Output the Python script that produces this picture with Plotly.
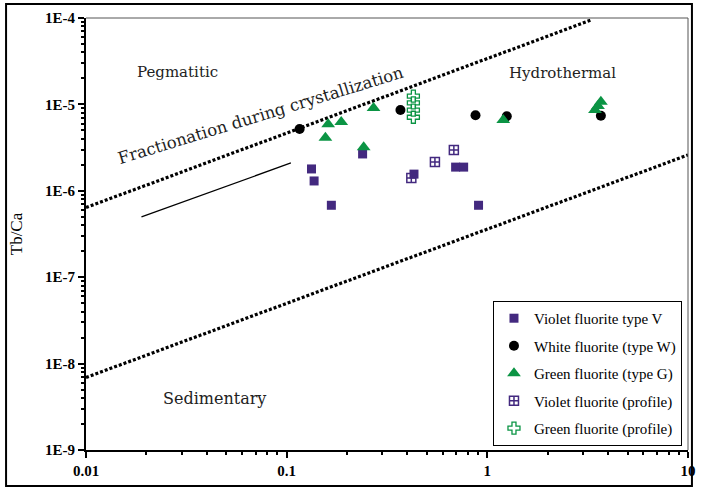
import plotly.graph_objects as go

# ---- data ----
violet_V_x = [0.133, 0.137, 0.167, 0.239, 0.431, 0.695, 0.762, 0.904]
violet_V_y = [1.79e-6, 1.30e-6, 6.8e-7, 2.67e-6, 1.56e-6, 1.88e-6, 1.88e-6, 6.8e-7]

white_W_x = [0.116, 0.369, 0.873, 1.25, 3.68]
white_W_y = [5.2e-6, 8.6e-6, 7.5e-6, 7.3e-6, 7.4e-6]

green_G_x = [0.156, 0.161, 0.187, 0.271, 0.242, 1.20, 3.44, 3.56, 3.68]
green_G_y = [4.1e-6, 5.9e-6, 6.25e-6, 9.1e-6, 3.2e-6, 6.6e-6, 8.6e-6, 9.6e-6, 1.07e-5]

violet_P_x = [0.418, 0.548, 0.681]
violet_P_y = [1.41e-6, 2.16e-6, 2.96e-6]

green_P_x = [0.428, 0.428, 0.428, 0.428]
green_P_y = [1.25e-5, 1.04e-5, 8.6e-6, 7.1e-6]

upper_line_x = [0.01, 3.3]
upper_line_y = [6.4e-7, 9.5e-5]
lower_line_x = [0.01, 10]
lower_line_y = [6.9e-9, 2.6e-6]
trend_line_x = [0.0189, 0.105]
trend_line_y = [4.98e-7, 2.1e-6]

y_tickvals = [1e-9, 1e-8, 1e-7, 1e-6, 1e-5, 1e-4]
y_ticktext = ["1E-9", "1E-8", "1E-7", "1E-6", "1E-5", "1E-4"]
x_tickvals = [0.01, 0.1, 1, 10]
x_ticktext = ["0.01", "0.1", "1", "10"]

VIOLET = "#43297f"
GREEN = "#0b9444"
SERIF = "Liberation Serif, Times New Roman, serif"
WIDE_SERIF = "DejaVu Serif, serif"

fig = go.Figure()

# boundary lines (no legend)
fig.add_trace(go.Scatter(x=upper_line_x, y=upper_line_y, mode="lines",
                         line=dict(color="black", width=3.2, dash="3px,2px"),
                         showlegend=False, hoverinfo="skip"))
fig.add_trace(go.Scatter(x=lower_line_x, y=lower_line_y, mode="lines",
                         line=dict(color="black", width=3.2, dash="3px,2px"),
                         showlegend=False, hoverinfo="skip"))
fig.add_trace(go.Scatter(x=trend_line_x, y=trend_line_y, mode="lines",
                         line=dict(color="black", width=1.3),
                         showlegend=False, hoverinfo="skip"))

fig.add_trace(go.Scatter(x=violet_V_x, y=violet_V_y, mode="markers",
                         name="Violet fluorite type V", legendgroup="a",
                         marker=dict(symbol="square", size=9, color=VIOLET)))
fig.add_trace(go.Scatter(x=white_W_x, y=white_W_y, mode="markers",
                         name="White fluorite (type W)", legendgroup="b",
                         marker=dict(symbol="circle", size=10, color="black")))
fig.add_trace(go.Scatter(x=green_G_x, y=green_G_y, mode="markers",
                         name="Green fluorite (type G)", legendgroup="c",
                         marker=dict(symbol="triangle-up", size=12, color=GREEN)))
fig.add_trace(go.Scatter(x=violet_P_x, y=violet_P_y, mode="markers",
                         name="Violet fluorite (profile)", legendgroup="d",
                         marker=dict(symbol="square-cross-open", size=9, color=VIOLET,
                                     line=dict(width=1.5, color=VIOLET))))
fig.add_trace(go.Scatter(x=green_P_x, y=green_P_y, mode="markers",
                         name="Green fluorite (profile)", legendgroup="e",
                         marker=dict(symbol="cross-open", size=10, color=GREEN,
                                     line=dict(width=1.3, color=GREEN))))

axis_common = dict(
    type="log", showgrid=False, zeroline=False,
    showline=True, linecolor="black", linewidth=2, mirror=False,
    ticks="outside", ticklen=6, tickwidth=2, tickcolor="black",
    tickfont=dict(family=SERIF, size=15, color="black", weight="bold"),
    minor=dict(ticks="outside", ticklen=3, tickwidth=1.5, tickcolor="black",
               dtick="D1", showgrid=False),
)

fig.update_xaxes(range=[-2, 1], tickvals=x_tickvals, ticktext=x_ticktext, **axis_common)
fig.update_yaxes(range=[-9, -4], tickvals=y_tickvals, ticktext=y_ticktext,
                 title=dict(text="Tb/Ca", font=dict(family=SERIF, size=17, color="black"),
                            standoff=18),
                 **axis_common)

# thin top and right frame lines + outer border
fig.add_shape(type="line", xref="paper", yref="paper", x0=0, x1=1, y0=1, y1=1,
              line=dict(color="#555555", width=1))
fig.add_shape(type="line", xref="paper", yref="paper", x0=1, x1=1, y0=0, y1=1,
              line=dict(color="#555555", width=1))
fig.add_shape(type="rect", xref="paper", yref="paper",
              x0=(5 - 86) / 610, x1=(700 - 86) / 610,
              y0=(450 - 486) / 432, y1=(450 - 4) / 432,
              line=dict(color="black", width=2))

ann_font = dict(family=WIDE_SERIF, size=15, color="#222222")
fig.add_annotation(x=-1.545, y=-4.62, xref="x", yref="y", text="Pegmatitic",
                   showarrow=False, font=ann_font)
fig.add_annotation(x=0.375, y=-4.64, xref="x", yref="y", text="Hydrothermal",
                   showarrow=False, font=ann_font)
fig.add_annotation(x=-1.36, y=-8.40, xref="x", yref="y", text="Sedimentary",
                   showarrow=False, font=dict(family=WIDE_SERIF, size=16, color="#222222"))
fig.add_annotation(x=-1.13, y=-5.13, xref="x", yref="y",
                   text="Fractionation during crystallization",
                   showarrow=False, textangle=-17,
                   font=dict(family=WIDE_SERIF, size=16.5, color="#222222"))

fig.update_layout(
    width=704, height=490,
    margin=dict(l=86, r=8, t=18, b=40),
    paper_bgcolor="white", plot_bgcolor="white",
    showlegend=True,
    legend=dict(x=0.99, y=0.345, xanchor="right", yanchor="top",
                bgcolor="white", bordercolor="black", borderwidth=1,
                font=dict(family=SERIF, size=15, color="black"),
                itemwidth=30, tracegroupgap=5, traceorder="grouped"),
)

fig.write_html("out.html")
